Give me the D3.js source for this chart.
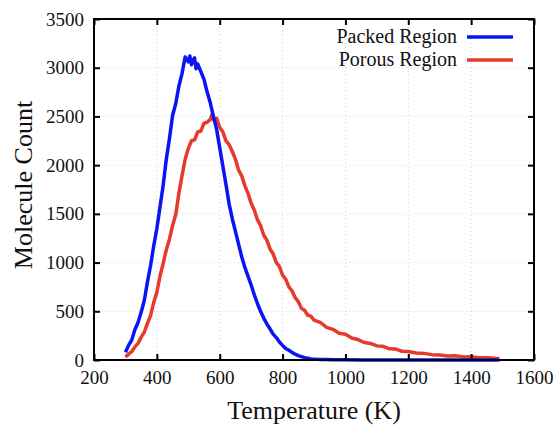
<!DOCTYPE html>
<html lang="en">
<head>
<meta charset="UTF-8">
<title>Molecule Count vs Temperature</title>
<style>
  body { margin: 0; background: #fff; }
  text { font-family: "Liberation Serif", "DejaVu Serif", serif; fill: #111; }
</style>
</head>
<body>
<div id="chart"></div>
<script src="https://d3js.org/d3.v7.min.js"></script>
<script>
// temperatures (K) and molecule counts
var packedTemp = [300,310,320,330,340,350,360,370,380,390,400,410,420,430,440,450,460,470,480,490,
                  500,505,510,515,520,525,530,540,550,560,570,580,590,600,610,620,630,640,650,660,670,680,690,
                  700,710,720,730,740,750,760,770,780,790,800,810,820,830,840,850,860,870,880,890,
                  900,920,940,960,1000,1050,1100,1200,1300,1400,1490];
var packedCount = [80,150,205,310,385,490,610,800,970,1170,1350,1570,1790,2060,2270,2510,2630,2810,2940,3110,
                   3060,3120,3030,3080,3100,2990,3040,2960,2880,2750,2640,2500,2370,2180,1990,1800,1600,1450,1320,1190,1060,950,860,
                   770,670,580,500,430,370,320,265,230,185,150,118,100,78,60,45,35,24,18,11,
                   9,5,6,3,2,1,1,0,0,0,0];

var porousTemp = [300,310,320,330,340,350,360,370,380,390,400,410,420,430,440,450,460,470,480,490,
                  500,510,520,530,540,550,560,570,575,580,590,600,610,620,630,640,650,660,670,680,690,
                  700,710,720,730,740,750,760,770,780,790,800,810,820,830,840,850,860,870,880,890,
                  900,920,940,960,980,1000,1020,1040,1060,1080,1100,1120,1140,1160,1180,1200,
                  1225,1250,1275,1300,1325,1350,1375,1400,1425,1450,1475,1490];
var porousCount = [30,60,85,135,170,235,285,375,455,590,695,860,990,1130,1240,1380,1490,1710,1890,2060,
                   2170,2250,2260,2340,2350,2430,2440,2470,2520,2470,2480,2390,2340,2250,2210,2140,2060,1950,1890,1790,1710,
                   1610,1540,1440,1380,1280,1230,1140,1090,1000,960,870,830,750,710,640,600,530,510,460,450,
                   410,385,335,315,275,265,225,210,180,170,145,140,115,112,90,88,
                   72,68,55,52,42,43,32,33,24,24,17,15];

var xTicks = [200,400,600,800,1000,1200,1400,1600];
var yTicks = [0,500,1000,1500,2000,2500,3000,3500];
var seriesNames = ["Packed Region", "Porous Region"];
var seriesColors = ["#0a14f5", "#e8392d"];

var W = 558, H = 426;
var margin = {top: 19, right: 24, bottom: 66, left: 94};
var pw = W - margin.left - margin.right, ph = H - margin.top - margin.bottom;

var svg = d3.select("#chart").append("svg")
    .attr("width", W).attr("height", H);
var g = svg.append("g")
    .attr("transform", "translate(" + margin.left + "," + margin.top + ")");

var x = d3.scaleLinear().domain([200, 1600]).range([0, pw]);
var y = d3.scaleLinear().domain([0, 3500]).range([ph, 0]);

// dotted grid
g.append("g").selectAll("line").data(xTicks.slice(1, -1)).enter().append("line")
    .attr("x1", d => x(d)).attr("x2", d => x(d)).attr("y1", 0).attr("y2", ph)
    .attr("stroke", "#d4d4d4").attr("stroke-width", 1).attr("stroke-dasharray", "1,3");
g.append("g").selectAll("line").data(yTicks.slice(1, -1)).enter().append("line")
    .attr("y1", d => y(d)).attr("y2", d => y(d)).attr("x1", 0).attr("x2", pw)
    .attr("stroke", "#d4d4d4").attr("stroke-width", 1).attr("stroke-dasharray", "1,3");

// curves
var line = d3.line().x(d => x(d[0])).y(d => y(d[1]));
var series = [
    d3.zip(packedTemp, packedCount),
    d3.zip(porousTemp, porousCount)
];
// draw porous first so packed sits on top like the original
[1, 0].forEach(function (i) {
    g.append("path").datum(series[i])
        .attr("d", line)
        .attr("fill", "none")
        .attr("stroke", seriesColors[i])
        .attr("stroke-width", 3.5)
        .attr("stroke-linejoin", "round");
});

// axes, ticks pointing inward on all four sides
function styleAxis(sel) {
    sel.select(".domain").remove();
    sel.selectAll(".tick line").attr("stroke", "#000").attr("stroke-width", 2);
    sel.selectAll("text").style("font-size", "19px")
        .style("font-family", "'Liberation Serif', serif").attr("fill", "#111");
}
var fmt = d3.format("d");
g.append("g").attr("transform", "translate(0," + ph + ")")
    .call(d3.axisBottom(x).tickValues(xTicks).tickFormat(fmt).tickSizeInner(-6).tickSizeOuter(0).tickPadding(11))
    .call(styleAxis);
g.append("g")
    .call(d3.axisLeft(y).tickValues(yTicks).tickFormat(fmt).tickSizeInner(-6).tickSizeOuter(0).tickPadding(10))
    .call(styleAxis);
g.append("g")
    .call(d3.axisTop(x).tickValues(xTicks).tickSizeInner(-6).tickSizeOuter(0).tickFormat(""))
    .call(styleAxis);
g.append("g").attr("transform", "translate(" + pw + ",0)")
    .call(d3.axisRight(y).tickValues(yTicks).tickSizeInner(-6).tickSizeOuter(0).tickFormat(""))
    .call(styleAxis);

// frame
g.append("rect").attr("x", 0).attr("y", 0).attr("width", pw).attr("height", ph)
    .attr("fill", "none").attr("stroke", "#000").attr("stroke-width", 2);

// legend
var legend = g.append("g");
seriesNames.forEach(function (name, i) {
    var ly = 18 + i * 23;
    legend.append("text")
        .attr("x", 363).attr("y", ly + 6)
        .attr("text-anchor", "end")
        .style("font-size", "20px")
        .text(name);
    legend.append("line")
        .attr("x1", 373).attr("x2", 419).attr("y1", ly).attr("y2", ly)
        .attr("stroke", seriesColors[i]).attr("stroke-width", 3.5);
});

// axis titles
svg.append("text")
    .attr("x", margin.left + pw / 2).attr("y", 419)
    .attr("text-anchor", "middle")
    .style("font-size", "26px")
    .text("Temperature (K)");
svg.append("text")
    .attr("transform", "translate(32,185) rotate(-90)")
    .attr("text-anchor", "middle")
    .style("font-size", "26px")
    .text("Molecule Count");
</script>
</body>
</html>
